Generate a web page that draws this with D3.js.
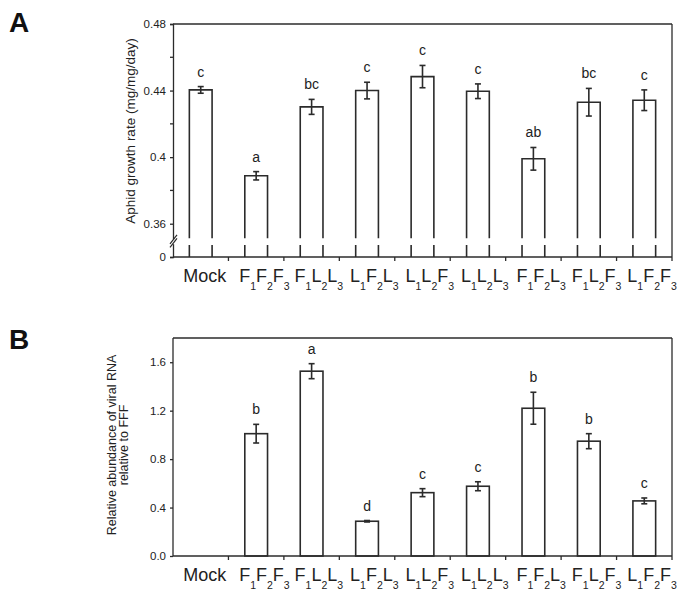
<!DOCTYPE html>
<html>
<head>
<meta charset="utf-8">
<script src="https://cdn.jsdelivr.net/npm/d3@7"></script>
<style>
  body { margin: 0; background: #fff; }
  svg { font-family: "Liberation Sans", Arial, sans-serif; }
</style>
</head>
<body>
<svg id="fig" width="683" height="604"></svg>
<script>
// treatments, letters are the three leaves (subscripts 1,2,3)
var categories = ["Mock", "FFF", "FLL", "LFL", "LLF", "LLL", "FFL", "FLF", "LFF"];

// panel A - aphid growth rate
var growthMean = [0.4404, 0.3888, 0.4302, 0.4400, 0.4484, 0.4396, 0.3990, 0.4330, 0.4342];
var growthErr = [0.0020, 0.0025, 0.0045, 0.0050, 0.0067, 0.0044, 0.0068, 0.0083, 0.0062];
var growthLetters = ["c", "a", "bc", "c", "c", "c", "ab", "bc", "c"];
var growthTicks = [0.34, 0.36, 0.40, 0.44, 0.48];   // 0.34 sits at the break, shown as "0"
var growthMinor = [0.38, 0.42, 0.46];

// panel B - viral RNA relative to FFF (no value for Mock)
var rnaMean = [null, 1.01, 1.526, 0.287, 0.523, 0.576, 1.22, 0.948, 0.455];
var rnaErr = [null, 0.077, 0.062, 0.006, 0.033, 0.037, 0.132, 0.062, 0.024];
var rnaLetters = [null, "b", "a", "d", "c", "c", "b", "b", "c"];
var rnaTicks = [0, 0.4, 0.8, 1.2, 1.6];

var svg = d3.select("#fig");
var ink = "#2b2b2b";
var left = 173, right = 672;

var x = d3.scaleBand().domain(categories).range([left, right]).padding(0);
var bw = x.bandwidth() * 0.41;
function cx(c) { return x(c) + x.bandwidth() / 2; }

// panel letters
svg.append("text").attr("x", 9).attr("y", 32).attr("font-size", 28)
  .attr("font-weight", "bold").attr("fill", "#111").text("A");
svg.append("text").attr("x", 9).attr("y", 349).attr("font-size", 28)
  .attr("font-weight", "bold").attr("fill", "#111").text("B");

function drawCategoryLabels(g, baseY) {
  categories.forEach(function(c) {
    if (c == "Mock") {
      g.append("text").attr("x", cx(c) + 4).attr("y", baseY)
        .attr("text-anchor", "middle").attr("font-size", 18).attr("fill", "#222")
        .text("Mock");
      return;
    }
    var t = g.append("text").attr("x", cx(c) - 17).attr("y", baseY)
      .attr("font-size", 18).attr("fill", "#222");
    c.split("").forEach(function(ch, i) {
      t.append("tspan").attr("dy", i == 0 ? 0 : -8).text(ch);
      t.append("tspan").attr("dy", 8).attr("font-size", 10.5).text(i + 1);
    });
  });
}

function drawFrame(g, top, bottom) {
  g.append("line").attr("x1", left).attr("x2", right).attr("y1", top).attr("y2", top)
    .attr("stroke", ink).attr("stroke-width", 1.3);
  g.append("line").attr("x1", right).attr("x2", right).attr("y1", top).attr("y2", bottom + 4)
    .attr("stroke", ink).attr("stroke-width", 1.3);
  g.append("line").attr("x1", left).attr("x2", right).attr("y1", bottom).attr("y2", bottom)
    .attr("stroke", ink).attr("stroke-width", 1.3);
  // ticks between categories
  g.selectAll(".xt").data(categories.slice(1)).enter().append("line")
    .attr("x1", function(d) { return x(d); }).attr("x2", function(d) { return x(d); })
    .attr("y1", bottom).attr("y2", bottom + 4)
    .attr("stroke", ink).attr("stroke-width", 1.3);
}

function styleAxis(a) {
  a.select(".domain").attr("stroke", ink).attr("stroke-width", 1.3);
  a.selectAll(".tick line").attr("stroke", ink).attr("stroke-width", 1.3);
  a.selectAll(".tick text").attr("font-size", 11.5).attr("fill", "#222")
    .attr("font-family", "Liberation Sans, Arial, sans-serif");
}

function drawErrors(g, data, y, gap) {
  var e = g.selectAll(".err").data(data).enter().append("g")
    .attr("stroke", ink).attr("stroke-width", 1.6);
  e.append("line").attr("x1", function(d) { return cx(d.c); }).attr("x2", function(d) { return cx(d.c); })
    .attr("y1", function(d) { return y(d.v - d.e); }).attr("y2", function(d) { return y(d.v + d.e); });
  [-1, 1].forEach(function(s) {
    e.append("line").attr("x1", function(d) { return cx(d.c) - 3; }).attr("x2", function(d) { return cx(d.c) + 3; })
      .attr("y1", function(d) { return y(d.v + s * d.e); }).attr("y2", function(d) { return y(d.v + s * d.e); });
  });
  g.selectAll(".sig").data(data).enter().append("text")
    .attr("x", function(d) { return cx(d.c); })
    .attr("y", function(d) { return y(d.v + d.e) - gap; })
    .attr("text-anchor", "middle").attr("font-size", 14).attr("fill", "#222")
    .text(function(d) { return d.l; });
}

/* ---------- panel A ---------- */
var gA = svg.append("g");
var yA = d3.scaleLinear().domain([0.34, 0.48]).range([257, 24]);
var breakHi = 0.3512, breakLo = 0.3472;

var dataA = categories.map(function(c, i) {
  return { c: c, v: growthMean[i], e: growthErr[i], l: growthLetters[i] };
});

// open-bottomed bars above the break
gA.selectAll(".bar").data(dataA).enter().append("path")
  .attr("d", function(d) {
    var x0 = cx(d.c) - bw / 2, x1 = cx(d.c) + bw / 2;
    return "M" + x0 + "," + yA(breakHi) + "V" + yA(d.v) + "H" + x1 + "V" + yA(breakHi);
  })
  .attr("fill", "#fff").attr("stroke", ink).attr("stroke-width", 1.6);
// stubs below the break
gA.selectAll(".stub").data(dataA).enter().append("path")
  .attr("d", function(d) {
    var x0 = cx(d.c) - bw / 2, x1 = cx(d.c) + bw / 2;
    return "M" + x0 + "," + yA(breakLo) + "V" + yA(0.34) + "M" + x1 + "," + yA(breakLo) + "V" + yA(0.34);
  })
  .attr("fill", "none").attr("stroke", ink).attr("stroke-width", 1.6);

drawErrors(gA, dataA, yA, 10);
drawFrame(gA, 24, 257);

var axA = gA.append("g").attr("transform", "translate(" + left + ",0)")
  .call(d3.axisLeft(yA).tickValues(growthTicks).tickSize(3).tickPadding(4)
    .tickFormat(function(d) { return d == 0.34 ? "0" : String(+d.toFixed(2)); }));
styleAxis(axA);
gA.selectAll(".minor").data(growthMinor).enter().append("line")
  .attr("x1", left - 3).attr("x2", left)
  .attr("y1", function(d) { return yA(d); }).attr("y2", function(d) { return yA(d); })
  .attr("stroke", ink).attr("stroke-width", 1.3);

// axis break mark
var by = (yA(breakHi) + yA(breakLo)) / 2;
gA.append("rect").attr("x", left - 2).attr("y", by - 2.5).attr("width", 4).attr("height", 5).attr("fill", "#fff");
[-1.8, 1.8].forEach(function(o) {
  gA.append("line").attr("x1", left - 3).attr("x2", left + 4)
    .attr("y1", by + o + 4).attr("y2", by + o - 5)
    .attr("stroke", ink).attr("stroke-width", 1.2);
});

gA.append("text").attr("transform", "translate(130,131) rotate(-90)")
  .attr("text-anchor", "middle").attr("dominant-baseline", "central")
  .attr("font-size", 13.5).attr("fill", "#222").text("Aphid growth rate (mg/mg/day)");

drawCategoryLabels(gA, 282);

/* ---------- panel B ---------- */
var gB = svg.append("g");
var yB = d3.scaleLinear().domain([0, 1.8]).range([556, 338]);

var dataB = categories.map(function(c, i) {
  return { c: c, v: rnaMean[i], e: rnaErr[i], l: rnaLetters[i] };
}).filter(function(d) { return d.v != null; });

gB.selectAll(".bar").data(dataB).enter().append("rect")
  .attr("x", function(d) { return cx(d.c) - bw / 2; })
  .attr("y", function(d) { return yB(d.v); })
  .attr("width", bw)
  .attr("height", function(d) { return yB(0) - yB(d.v); })
  .attr("fill", "#fff").attr("stroke", ink).attr("stroke-width", 1.6);

drawErrors(gB, dataB, yB, 10);
drawFrame(gB, 338, 556);

var axB = gB.append("g").attr("transform", "translate(" + left + ",0)")
  .call(d3.axisLeft(yB).tickValues(rnaTicks).tickSize(3).tickPadding(4).tickFormat(d3.format(".1f")));
axB.select(".domain").attr("d", "M0," + yB(1.8) + "V" + yB(0));
styleAxis(axB);

var titleB = gB.append("text").attr("transform", "translate(117,445) rotate(-90)")
  .attr("text-anchor", "middle").attr("font-size", 12.5).attr("fill", "#222");
titleB.append("tspan").attr("x", 0).attr("dy", -0.8).text("Relative abundance of viral RNA");
titleB.append("tspan").attr("x", 0).attr("dy", 11.6).text("relative to FFF");

drawCategoryLabels(gB, 581);
</script>
</body>
</html>
